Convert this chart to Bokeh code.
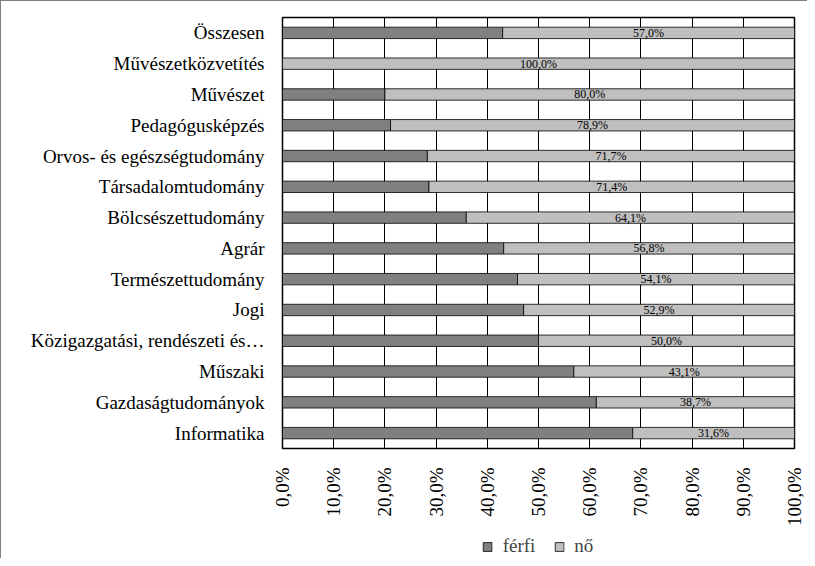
from math import pi
import numpy as np
from bokeh.plotting import figure
from bokeh.layouts import column
from bokeh.models import ColumnDataSource, FixedTicker, Legend, LegendItem, FactorRange
from bokeh.core.properties import value
from bokeh.embed import file_html
from bokeh.resources import INLINE

categories = ["Összesen", "Művészetközvetítés", "Művészet", "Pedagógusképzés",
              "Orvos- és egészségtudomány", "Társadalomtudomány", "Bölcsészettudomány",
              "Agrár", "Természettudomány", "Jogi", "Közigazgatási, rendészeti és…",
              "Műszaki", "Gazdaságtudományok", "Informatika"]
no = [57.0, 100.0, 80.0, 78.9, 71.7, 71.4, 64.1, 56.8, 54.1, 52.9, 50.0, 43.1, 38.7, 31.6]
ferfi = [round(100 - v, 1) for v in no]
tick_values = [0, 10, 20, 30, 40, 50, 60, 70, 80, 90, 100]
tick_labels = ["0,0%", "10,0%", "20,0%", "30,0%", "40,0%", "50,0%", "60,0%",
               "70,0%", "80,0%", "90,0%", "100,0%"]
series_names = ["férfi", "nő"]
series_colors = ["#808080", "#bfbfbf"]

FONT = "Liberation Serif"

src = ColumnDataSource(dict(
    cat=categories,
    ferfi=ferfi,
    no=no,
    total=[f + n for f, n in zip(ferfi, no)],
    mid=[f + n / 2 for f, n in zip(ferfi, no)],
    lab=[("%.1f%%" % n).replace(".", ",") for n in no],
))

p = figure(width=807, height=528, output_backend="svg", toolbar_location=None,
           y_range=FactorRange(*categories[::-1]), x_range=(0, 100),
           min_border_left=281, min_border_right=14, min_border_top=16, min_border_bottom=72)
p.styles = {"border-left": "1px solid #808080", "border-top": "1px solid #808080"}

p.hbar(y="cat", left=0, right="ferfi", height=0.37, source=src,
       fill_color=series_colors[0], line_color="#000000", line_width=0.8)
p.hbar(y="cat", left="ferfi", right="total", height=0.37, source=src,
       fill_color=series_colors[1], line_color="#000000", line_width=0.8)
p.text(x="mid", y="cat", text="lab", source=src, text_align="center",
       text_baseline="middle", text_font=value(FONT), text_font_size="12px",
       text_color="#000000")

p.xaxis.ticker = FixedTicker(ticks=tick_values)
p.xaxis.major_label_overrides = {v: l for v, l in zip(tick_values, tick_labels)}
p.xaxis.major_label_orientation = pi / 2
p.xaxis.major_label_text_font = FONT
p.xaxis.major_label_text_font_size = "19px"
p.xaxis.major_label_text_color = "#000000"
p.xaxis.major_tick_line_color = None
p.xaxis.minor_tick_line_color = None
p.xaxis.axis_line_color = None
p.xaxis.major_label_standoff = 13

p.yaxis.major_label_text_font = FONT
p.yaxis.major_label_text_font_size = "19px"
p.yaxis.major_label_text_color = "#000000"
p.yaxis.major_tick_line_color = None
p.yaxis.axis_line_color = None
p.yaxis.major_label_standoff = 12

p.xgrid.grid_line_color = "#000000"
p.xgrid.grid_line_width = 1
p.ygrid.grid_line_color = None
p.outline_line_color = "#000000"
p.outline_line_width = 1.5

# legend strip below the chart
p2 = figure(width=807, height=30, output_backend="svg", toolbar_location=None,
            x_range=(0, 1), y_range=(0, 1),
            min_border_left=281, min_border_right=14, min_border_top=0, min_border_bottom=0)
p2.styles = {"border-left": "1px solid #808080"}
p2.axis.visible = False
p2.grid.visible = False
p2.outline_line_color = None
leg_renderers = [p2.hbar(y=np.array([np.nan]), right=np.array([np.nan]), height=0.5,
                         fill_color=c, line_color="#000000", line_width=0.8)
                 for c in series_colors]
legend = Legend(items=[LegendItem(label=n, renderers=[r]) for n, r in zip(series_names, leg_renderers)],
                orientation="horizontal", location="bottom_center",
                label_text_font=FONT, label_text_font_size="19px",
                glyph_width=11, glyph_height=11, spacing=18, padding=0, margin=1,
                border_line_color=None, background_fill_alpha=0, label_standoff=10)
p2.add_layout(legend, "center")

layout = column(p, p2, spacing=0)
open("out.html", "w").write(file_html(layout, INLINE))
